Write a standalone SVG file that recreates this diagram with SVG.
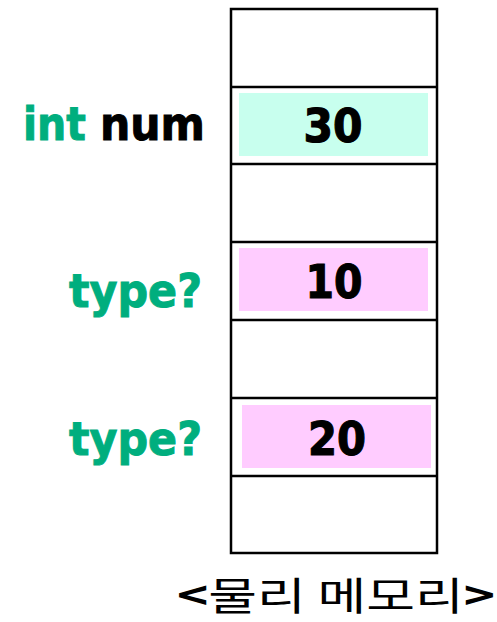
<svg xmlns="http://www.w3.org/2000/svg" width="497" height="622" viewBox="0 0 497 622">
  <style>
    .cell { fill: #ffffff; stroke: #000000; stroke-width: 2.5; }
    .val { font-family: "DejaVu Sans", Verdana, sans-serif; font-weight: bold; font-size: 47px; fill: #000000; stroke: #000000; stroke-width: 1.2; text-anchor: middle; }
    .lbl { font-family: "DejaVu Sans", Verdana, sans-serif; font-weight: bold; font-size: 47px; fill: #00AE7E; stroke: #00AE7E; stroke-width: 1; }
    .dark { fill: #000000; stroke: #000000; }
    .cap { font-family: "Noto Sans CJK KR", "Noto Sans", sans-serif; font-size: 39px; fill: #000000; }
  </style>
  <rect width="497" height="622" fill="#ffffff"/>

  <!-- memory column -->
  <g id="memory">
    <rect class="cell" x="231" y="9" width="206" height="544"/>
    <line x1="231" y1="87" x2="437" y2="87" stroke="#000" stroke-width="2.5"/>
    <line x1="231" y1="164" x2="437" y2="164" stroke="#000" stroke-width="2.5"/>
    <line x1="231" y1="242" x2="437" y2="242" stroke="#000" stroke-width="2.5"/>
    <line x1="231" y1="320" x2="437" y2="320" stroke="#000" stroke-width="2.5"/>
    <line x1="231" y1="398" x2="437" y2="398" stroke="#000" stroke-width="2.5"/>
    <line x1="231" y1="476" x2="437" y2="476" stroke="#000" stroke-width="2.5"/>
  </g>

  <g id="cell-num">
    <rect x="239" y="93" width="189" height="63" fill="#C8FFEE"/>
    <text class="val" x="333" y="142" textLength="59" lengthAdjust="spacingAndGlyphs">30</text>
  </g>

  <g id="cell-a">
    <rect x="239" y="248" width="189" height="63" fill="#FFCCFF"/>
    <text class="val" x="334" y="298" textLength="57" lengthAdjust="spacingAndGlyphs">10</text>
  </g>

  <g id="cell-b">
    <rect x="242" y="405" width="189" height="63" fill="#FFCCFF"/>
    <text class="val" x="337" y="455" textLength="58" lengthAdjust="spacingAndGlyphs">20</text>
  </g>

  <!-- variable labels -->
  <g id="label-num">
    <text class="lbl" x="23" y="140" textLength="63" lengthAdjust="spacingAndGlyphs">int</text>
    <text class="lbl dark" x="100" y="140" textLength="105" lengthAdjust="spacingAndGlyphs">num</text>
  </g>
  <g id="label-a">
    <text class="lbl" x="69" y="307" textLength="133" lengthAdjust="spacingAndGlyphs">type?</text>
  </g>
  <g id="label-b">
    <text class="lbl" x="69" y="455" textLength="133" lengthAdjust="spacingAndGlyphs">type?</text>
  </g>

  <g id="caption">
    <text class="cap" x="177" y="610" textLength="318" lengthAdjust="spacingAndGlyphs"><tspan font-weight="bold">&lt;</tspan>물리 메모리<tspan font-weight="bold">&gt;</tspan></text>
  </g>
</svg>
